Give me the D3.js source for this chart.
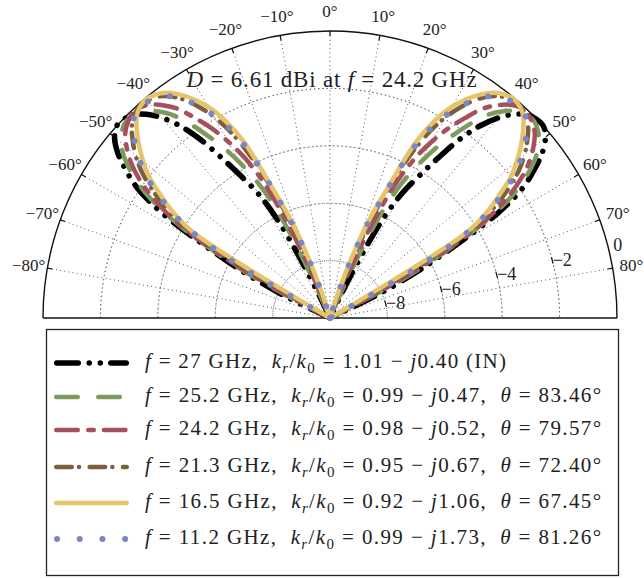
<!DOCTYPE html>
<html>
<head>
<meta charset="utf-8">
<script src="https://cdn.jsdelivr.net/npm/d3@7.9.0/dist/d3.min.js"></script>
<style>
  body { margin: 0; background: #fff; }
  text { font-family: "Liberation Serif", "DejaVu Serif", serif; fill: #222; white-space: pre; }
</style>
</head>
<body>
<div id="chart"></div>
<script>
// --- Data (one half of the pattern, mirrored onto the negative angles) ---
const angles = [0, 14, 16, 18, 20, 22, 24, 26, 28, 30, 32, 34, 36, 38, 40, 42, 44, 46, 48, 50, 52, 54, 56, 58, 60, 62, 64, 66, 90];
const gain27  = [-10, -10, -10, -10, -10, -10, -10, -8.4, -6.2, -5.0, -4.2, -3.3, -2.3, -1.5, -0.9, -0.45, -0.15, -0.02, 0, -0.2, -0.6, -1.2, -1.9, -3.1, -5.0, -6.6, -8.2, -10, -10];
const gain252 = [-10, -10, -10, -10, -10, -10, -8.3, -6.0, -4.7, -3.8, -3.0, -2.3, -1.6, -1.0, -0.6, -0.3, -0.15, -0.12, -0.25, -0.5, -0.9, -1.5, -2.3, -3.5, -5.3, -7.2, -10, -10, -10];
const gain242 = [-10, -10, -10, -10, -10, -8.6, -6.5, -4.8, -3.7, -2.9, -2.2, -1.6, -1.0, -0.6, -0.3, -0.12, -0.1, -0.2, -0.4, -0.75, -1.2, -1.8, -2.6, -3.7, -5.5, -8.0, -10, -10, -10];
const gain213 = [-10, -10, -10, -10, -8.6, -6.8, -5.2, -3.8, -2.7, -1.9, -1.3, -0.8, -0.45, -0.22, -0.1, -0.08, -0.18, -0.4, -0.75, -1.15, -1.65, -2.3, -3.1, -4.2, -6.5, -10, -10, -10, -10];
const gain165 = [-10, -10, -10, -9.0, -7.6, -6.2, -5.0, -3.2, -2.2, -1.5, -1.0, -0.6, -0.3, -0.12, -0.05, -0.1, -0.3, -0.65, -1.05, -1.5, -2.0, -2.7, -3.4, -4.4, -10, -10, -10, -10, -10];
const gain112 = [-10, -10, -10, -9.2, -7.8, -6.4, -5.1, -3.5, -2.5, -1.8, -1.25, -0.8, -0.45, -0.25, -0.15, -0.12, -0.2, -0.45, -0.85, -1.3, -1.8, -2.5, -3.3, -4.3, -6.5, -10, -10, -10, -10];

const freqs  = ["27", "25.2", "24.2", "21.3", "16.5", "11.2"];
const krRe   = ["1.01", "0.99", "0.98", "0.95", "0.92", "0.99"];
const krIm   = ["0.40", "0.47", "0.52", "0.67", "1.06", "1.73"];
const thetas = [null, "83.46", "79.57", "72.40", "67.45", "81.26"];

const angleTicks = d3.range(-80, 81, 10);
const rTicks = [-8, -6, -4, -2, 0];

// --- Layout ---
const W = 644, H = 578;
const CX = 330, CY = 318, R = 287;
const RLABEL_ANGLE = 75.5;

const series = [
  { values: gain27,  color: "#000000", width: 5.5, dash: "21.5 11 0.01 11 0.01 10.5" },
  { values: gain252, color: "#7b9a5c", width: 4.5, dash: "21.5 20.5" },
  { values: gain242, color: "#a84f5e", width: 4.5, dash: "21.5 10.5 5.5 10.2" },
  { values: gain213, color: "#7b6040", width: 4.5, dash: "15.5 7.25 0.01 10.6" },
  { values: gain165, color: "#e5c46b", width: 4.5, dash: null },
  { values: gain112, color: "#7a86c6", width: 6,   dash: "0.01 22.7" }
];

const r = d3.scaleLinear().domain([-10, 0]).range([0, R]).clamp(true);
const rad = (deg) => (deg * Math.PI) / 180;
const px = (deg, rr) => CX + rr * Math.sin(rad(deg));
const py = (deg, rr) => CY - rr * Math.cos(rad(deg));

// stretch a text element to a target width (the original uses wider TeX fonts)
function fitWidth(sel, target) {
  const node = sel.node();
  const len = node.getComputedTextLength();
  const n = node.textContent.length;
  if (n > 1) sel.attr("letter-spacing", (target - len) / (n - 1));
}

const svg = d3.select("#chart").append("svg").attr("width", W).attr("height", H);
svg.append("rect").attr("width", W).attr("height", H).attr("fill", "#fff");

const plot = svg.append("g").attr("transform", `translate(${CX},${CY})`);

// Grid: dotted circles and spokes
const arc = d3.arc().startAngle(-Math.PI / 2).endAngle(Math.PI / 2);
plot.append("g")
  .selectAll("path")
  .data(rTicks.filter((d) => d < 0))
  .join("path")
  .attr("d", (d) => arc({ innerRadius: r(d), outerRadius: r(d) }))
  .attr("fill", "none")
  .attr("stroke", "#444")
  .attr("stroke-width", 0.9)
  .attr("stroke-dasharray", "1 3.2");

plot.append("g")
  .selectAll("line")
  .data(angleTicks)
  .join("line")
  .attr("x2", (d) => R * Math.sin(rad(d)))
  .attr("y2", (d) => -R * Math.cos(rad(d)))
  .attr("stroke", "#444")
  .attr("stroke-width", 0.9)
  .attr("stroke-dasharray", "1 3.2");

// Outer frame
plot.append("path")
  .attr("d", arc({ innerRadius: R, outerRadius: R }))
  .attr("fill", "none")
  .attr("stroke", "#111")
  .attr("stroke-width", 1.4);
plot.append("line")
  .attr("x1", -R).attr("x2", R)
  .attr("stroke", "#111")
  .attr("stroke-width", 1.4);

// Angular ticks and labels
plot.append("g")
  .selectAll("line")
  .data(angleTicks)
  .join("line")
  .attr("x1", (d) => R * Math.sin(rad(d)))
  .attr("y1", (d) => -R * Math.cos(rad(d)))
  .attr("x2", (d) => (R - 5) * Math.sin(rad(d)))
  .attr("y2", (d) => -(R - 5) * Math.cos(rad(d)))
  .attr("stroke", "#111")
  .attr("stroke-width", 1.2);

svg.append("g")
  .selectAll("text")
  .data(angleTicks)
  .join("text")
  .attr("x", (d) => px(d, R + 19))
  .attr("y", (d) => py(d, R + 20))
  .attr("dy", "0.35em")
  .attr("text-anchor", "middle")
  .attr("font-size", 17)
  .text((d) => (d < 0 ? "\u2212" + -d : d) + "\u00b0");

// Series curves
const lineGen = d3.lineRadial()
  .angle((d) => rad(d[0]))
  .radius((d) => r(d[1]))
  .curve(d3.curveCatmullRom.alpha(0.5));

function fullPattern(values) {
  const pts = [];
  for (let i = angles.length - 1; i > 0; i--) pts.push([-angles[i], values[i]]);
  for (let i = 0; i < angles.length; i++) pts.push([angles[i], values[i]]);
  return pts;
}

series.forEach((s) => {
  plot.append("path")
    .datum(fullPattern(s.values))
    .attr("d", lineGen)
    .attr("fill", "none")
    .attr("stroke", s.color)
    .attr("stroke-width", s.width)
    .attr("stroke-linecap", "round")
    .attr("stroke-linejoin", "round")
    .attr("stroke-dasharray", s.dash);
});

// Radial ticks and labels
const rl = svg.append("g");
rl.selectAll("line")
  .data(rTicks.filter((d) => d < 0))
  .join("line")
  .attr("x1", (d) => px(RLABEL_ANGLE, r(d)) - 0.8)
  .attr("y1", (d) => py(RLABEL_ANGLE, r(d)) - 3)
  .attr("x2", (d) => px(RLABEL_ANGLE, r(d)) + 0.8)
  .attr("y2", (d) => py(RLABEL_ANGLE, r(d)) + 3)
  .attr("stroke", "#111")
  .attr("stroke-width", 1.2);
rl.selectAll("text")
  .data(rTicks)
  .join("text")
  .attr("x", (d) => px(RLABEL_ANGLE, r(d)) + 10)
  .attr("y", (d) => py(RLABEL_ANGLE, r(d)) - 1)
  .attr("dy", "0.35em")
  .attr("text-anchor", "middle")
  .attr("font-size", 18)
  .text((d) => (d < 0 ? "\u2212" + -d : String(d)));

// Title
const title = svg.append("text")
  .attr("x", 332)
  .attr("y", 87)
  .attr("text-anchor", "middle")
  .attr("font-size", 23);
title.append("tspan").attr("font-style", "italic").text("D");
title.append("tspan").text(" = 6.61 dBi at ");
title.append("tspan").attr("font-style", "italic").text("f");
title.append("tspan").text(" = 24.2 GHz");
fitWidth(title, 290);

// Legend
const legend = svg.append("g");
legend.append("rect")
  .attr("x", 46.5).attr("y", 329.5)
  .attr("width", 572).attr("height", 246)
  .attr("fill", "#fff")
  .attr("stroke", "#222")
  .attr("stroke-width", 1.3);

const rowY = [363, 397, 430, 467, 503, 539];

function addRich(textSel, parts) {
  parts.forEach(([str, kind]) => {
    const t = textSel.append("tspan").text(str);
    if (kind === "i") t.attr("font-style", "italic");
    if (kind === "sub" || kind === "isub") {
      t.attr("font-size", 15).attr("dy", 5);
      if (kind === "isub") t.attr("font-style", "italic");
    }
    if (kind === "up") t.attr("dy", -5);
  });
}

series.forEach((s, i) => {
  const y = rowY[i];
  legend.append("line")
    .attr("x1", 54 + s.width / 2)
    .attr("x2", 129 - s.width / 2)
    .attr("y1", y).attr("y2", y)
    .attr("stroke", s.color)
    .attr("stroke-width", s.width)
    .attr("stroke-linecap", "round")
    .attr("stroke-dasharray", s.dash);

  const t = legend.append("text")
    .attr("x", 145)
    .attr("y", y + 5)
    .attr("font-size", 21);
  const parts = [
    ["f", "i"], [` = ${freqs[i]} GHz,  `],
    ["k", "i"], ["r", "isub"], ["/", "up"], ["k", "i"], ["0", "sub"],
    [` = ${krRe[i]} \u2212 `, "up"], ["j", "i"]
  ];
  if (thetas[i] === null) {
    parts.push([`${krIm[i]} (IN)`]);
  } else {
    parts.push([`${krIm[i]},  `], ["\u03b8", "i"], [` = ${thetas[i]}\u00b0`]);
  }
  addRich(t, parts);
  fitWidth(t, thetas[i] === null ? 361 : 456);
});
</script>
</body>
</html>
